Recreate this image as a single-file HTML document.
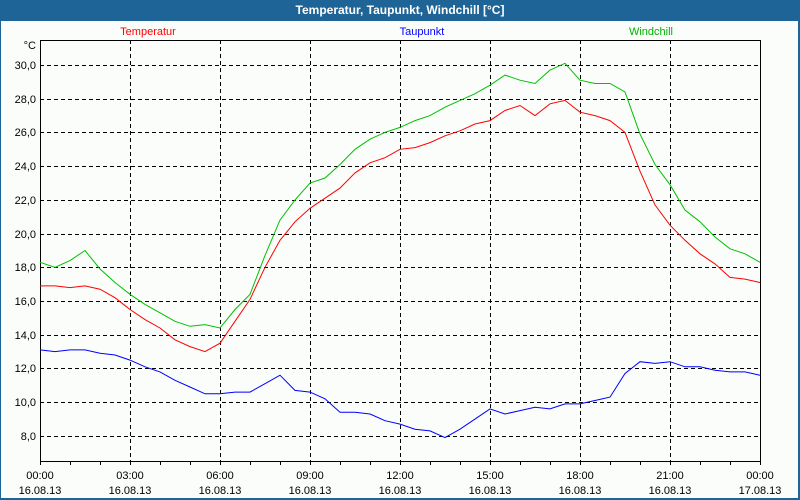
<!DOCTYPE html>
<html><head><meta charset="utf-8"><style>
body{margin:0;background:#fff}
#wrap{position:relative;width:800px;height:500px;overflow:hidden;background:#1e6496}
</style></head><body>
<div id="wrap">
<svg id="chart" width="800" height="500" xmlns="http://www.w3.org/2000/svg" font-family="Liberation Sans, sans-serif">
<rect x="0" y="0" width="800" height="500" fill="#1e6496"/>
<text x="400" y="14" fill="#fff" font-size="12" font-weight="bold" text-anchor="middle">Temperatur, Taupunkt, Windchill [°C]</text>
<rect x="1" y="21" width="797" height="477" fill="#fbfdfb"/>
<g id="grid"></g><g id="axes"></g><g id="series"></g>
<text x="148" y="35" fill="#ff0000" font-size="11" text-anchor="middle">Temperatur</text>
<text x="422" y="35" fill="#0000ff" font-size="11" text-anchor="middle">Taupunkt</text>
<text x="651" y="35" fill="#00b000" font-size="11" text-anchor="middle">Windchill</text>
<text x="36" y="49" fill="#000" font-size="11" text-anchor="end">°C</text>
</svg>
</div>
<script>
const hours = [0,0.5,1,1.5,2,2.5,3,3.5,4,4.5,5,5.5,6,6.5,7,7.5,8,8.5,9,9.5,10,10.5,11,11.5,12,12.5,13,13.5,14,14.5,15,15.5,16,16.5,17,17.5,18,18.5,19,19.5,20,20.5,21,21.5,22,22.5,23,23.5,24];
const temperatur = [16.9,16.9,16.8,16.9,16.7,16.2,15.5,14.9,14.4,13.7,13.3,13.0,13.5,14.8,16.1,18.0,19.6,20.7,21.5,22.1,22.7,23.6,24.2,24.5,25.0,25.1,25.4,25.8,26.1,26.5,26.7,27.3,27.6,27.0,27.7,27.9,27.2,27.0,26.7,26.0,23.7,21.7,20.5,19.6,18.8,18.2,17.4,17.3,17.1];
const windchill = [18.3,18.0,18.4,19.0,17.9,17.1,16.4,15.8,15.3,14.8,14.5,14.6,14.4,15.5,16.4,18.7,20.8,22.0,23.0,23.3,24.1,25.0,25.6,26.0,26.3,26.7,27.0,27.5,27.9,28.3,28.8,29.4,29.1,28.9,29.7,30.1,29.1,28.9,28.9,28.4,25.9,24.1,22.9,21.4,20.7,19.8,19.1,18.8,18.3];
const taupunkt = [13.1,13.0,13.1,13.1,12.9,12.8,12.5,12.1,11.8,11.3,10.9,10.5,10.5,10.6,10.6,11.1,11.6,10.7,10.6,10.2,9.4,9.4,9.3,8.9,8.7,8.4,8.3,7.9,8.4,9.0,9.6,9.3,9.5,9.7,9.6,9.9,9.9,10.1,10.3,11.7,12.4,12.3,12.4,12.1,12.1,11.9,11.8,11.8,11.6];
const yTicks = [8,10,12,14,16,18,20,22,24,26,28,30];
const xTickHours = [0,3,6,9,12,15,18,21,24];
const xTickTimes = ["00:00","03:00","06:00","09:00","12:00","15:00","18:00","21:00","00:00"];
const xTickDates = ["16.08.13","16.08.13","16.08.13","16.08.13","16.08.13","16.08.13","16.08.13","16.08.13","17.08.13"];

const X0=40,X1=760,Y0=40,Y1=461;
const xs = h => X0 + h*(X1-X0)/24;
const ys = t => 65 + (30-t)*16.86;
const NS="http://www.w3.org/2000/svg";
function mk(tag,parent){const e=document.createElementNS(NS,tag);document.getElementById(parent).appendChild(e);return e;}

yTicks.forEach(t=>{
  const l=mk('line','grid');
  
  
  l.setAttribute('x1',X0);l.setAttribute('x2',X1);l.setAttribute('y1',Math.round(ys(t))+0.5);l.setAttribute('y2',Math.round(ys(t))+0.5);
  l.setAttribute('stroke','#000');l.setAttribute('stroke-dasharray','4,3');
  const tx=mk('text','axes');
  
  
  tx.setAttribute('x',36);tx.setAttribute('y',Math.round(ys(t))+4);tx.setAttribute('text-anchor','end');tx.setAttribute('font-size','11');
  tx.textContent=t.toFixed(1).replace('.',',');
});
xTickHours.forEach((h,i)=>{
  if(h>0&&h<24){
    const l=mk('line','grid');
    
    
    l.setAttribute('x1',xs(h)+0.5);l.setAttribute('x2',xs(h)+0.5);l.setAttribute('y1',Y0);l.setAttribute('y2',Y1);
    l.setAttribute('stroke','#000');l.setAttribute('stroke-dasharray','4,3');
  }
  const t1=mk('text','axes');
  
  
  t1.setAttribute('x',xs(h));t1.setAttribute('y',479);t1.setAttribute('text-anchor','middle');t1.setAttribute('font-size','11');
  t1.textContent=xTickTimes[i];
  const t2=mk('text','axes');
  
  
  t2.setAttribute('x',xs(h));t2.setAttribute('y',494);t2.setAttribute('text-anchor','middle');t2.setAttribute('font-size','11');
  t2.textContent=xTickDates[i];
});
for(let h=0;h<=24;h++){
  const l=mk('line','axes');
  
  
  l.setAttribute('x1',xs(h)+0.5);l.setAttribute('x2',xs(h)+0.5);l.setAttribute('y1',Y1);l.setAttribute('y2',Y1+4);l.setAttribute('stroke','#000');
}
const frame=mk('rect','axes');


frame.setAttribute('x',X0+0.5);frame.setAttribute('y',Y0+0.5);frame.setAttribute('width',X1-X0);frame.setAttribute('height',Y1-Y0);
frame.setAttribute('fill','none');frame.setAttribute('stroke','#000');

function series(arr,color,name){
  const p=mk('polyline','series');
  
  
  p.setAttribute('points',arr.map((v,i)=>xs(hours[i]).toFixed(1)+','+ys(v).toFixed(1)).join(' '));
  p.setAttribute('fill','none');p.setAttribute('stroke',color);p.setAttribute('stroke-width','1');
}
series(windchill,'#00c000','windchill-line');
series(temperatur,'#ff0000','temperatur-line');
series(taupunkt,'#0000ff','taupunkt-line');
</script>
</body></html>
